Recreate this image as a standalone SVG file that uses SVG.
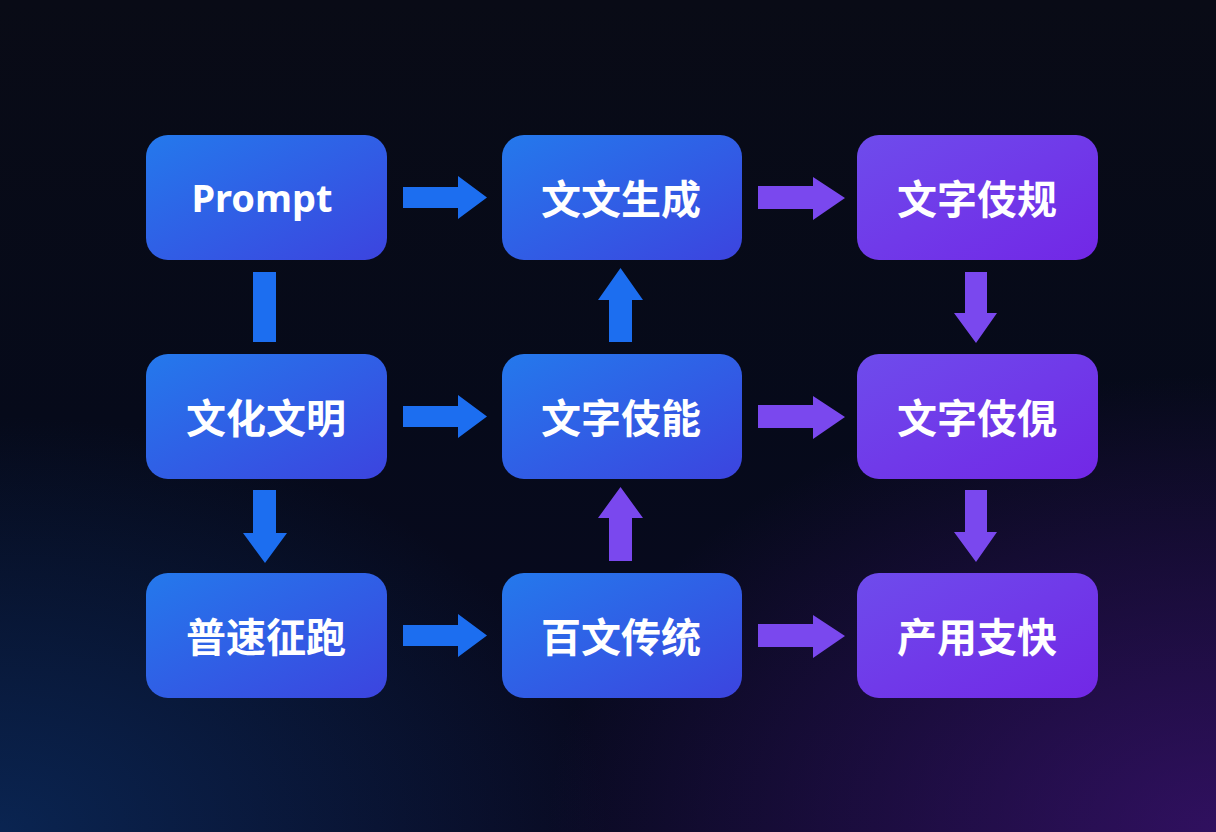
<svg xmlns="http://www.w3.org/2000/svg" width="1216" height="832" viewBox="0 0 1216 832">
<defs>
<linearGradient id="bg" x1="0" y1="0" x2="0" y2="1">
<stop offset="0" stop-color="#090b16"/>
<stop offset="0.5" stop-color="#060a1a"/>
<stop offset="1" stop-color="#090a22"/>
</linearGradient>
<radialGradient id="glowL" cx="0" cy="1" r="0.5">
<stop offset="0" stop-color="#0b3a78" stop-opacity="0.55"/>
<stop offset="1" stop-color="#0b3a78" stop-opacity="0"/>
</radialGradient>
<radialGradient id="glowR" cx="1" cy="1" r="0.55">
<stop offset="0" stop-color="#4a1488" stop-opacity="0.6"/>
<stop offset="1" stop-color="#4a1488" stop-opacity="0"/>
</radialGradient>
<linearGradient id="gBlue" x1="0" y1="0" x2="1" y2="1">
<stop offset="0" stop-color="#2479ec"/>
<stop offset="1" stop-color="#3c44df"/>
</linearGradient>
<linearGradient id="gPurple" x1="0" y1="0" x2="1" y2="1">
<stop offset="0" stop-color="#6e4cec"/>
<stop offset="1" stop-color="#7227e6"/>
</linearGradient>
<style>
.node-b{fill:url(#gBlue)}
.node-p{fill:url(#gPurple)}
.lbl{fill:#ffffff;font-family:"Noto Sans CJK SC","Noto Sans",sans-serif;font-weight:700;font-size:40px;text-anchor:middle;dominant-baseline:central}
.ab{fill:#1c6ef0}
.ap{fill:#7a48ee}
</style>
</defs>
<rect width="1216" height="832" fill="url(#bg)"/>
<rect width="1216" height="832" fill="url(#glowL)"/>
<rect width="1216" height="832" fill="url(#glowR)"/>

<g id="connectors">
<path class="ab" d="M403,187 H458 V176 L487,197.5 L458,219 V208 H403 Z"/>
<path class="ap" d="M758,186 H813 V177 L845,198 L813,220 V209 H758 Z"/>
<path class="ab" d="M403,406 H458 V395 L487,416.5 L458,438 V427 H403 Z"/>
<path class="ap" d="M758,405 H813 V396 L845,417 L813,439 V428 H758 Z"/>
<path class="ab" d="M403,625 H458 V614 L487,635.5 L458,657 V646 H403 Z"/>
<path class="ap" d="M758,624 H813 V615 L845,636 L813,658 V647 H758 Z"/>
<rect class="ab" x="253" y="272" width="23" height="70"/>
<path class="ab" d="M253,490 H276 V533 H287 L265,563 L243,533 H253 Z"/>
<path class="ab" d="M609,342 V300 H598 L620.5,268 L643,300 H632 V342 Z"/>
<path class="ap" d="M609,561 V518 H598 L620.5,487 L643,518 H632 V561 Z"/>
<path class="ap" d="M965,272 H987 V313 H997 L976,343 L954,313 H965 Z"/>
<path class="ap" d="M965,490 H987 V532 H997 L976,562 L954,532 H965 Z"/>
</g>

<g id="n-prompt"><rect class="node-b" x="146" y="135" width="241" height="125" rx="22"/><text class="lbl" x="262" y="197" style="font-family:'Noto Sans','Noto Sans CJK SC',sans-serif;font-size:38px">Prompt</text></g>
<g id="n-wwsc"><rect class="node-b" x="502" y="135" width="240" height="125" rx="22"/><text class="lbl" x="621" y="197">文文生成</text></g>
<g id="n-wzsg"><rect class="node-p" x="857" y="135" width="241" height="125" rx="22"/><text class="lbl" x="977" y="197">文字伎规</text></g>

<g id="n-whwm"><rect class="node-b" x="146" y="354" width="241" height="125" rx="22"/><text class="lbl" x="266" y="416">文化文明</text></g>
<g id="n-wzjn"><rect class="node-b" x="502" y="354" width="240" height="125" rx="22"/><text class="lbl" x="621" y="416">文字伎能</text></g>
<g id="n-wzjl"><rect class="node-p" x="857" y="354" width="241" height="125" rx="22"/><text class="lbl" x="977" y="416">文字伎俔</text></g>

<g id="n-pszp"><rect class="node-b" x="146" y="573" width="241" height="125" rx="22"/><text class="lbl" x="266" y="635">普速征跑</text></g>
<g id="n-bwct"><rect class="node-b" x="502" y="573" width="240" height="125" rx="22"/><text class="lbl" x="621" y="635">百文传统</text></g>
<g id="n-cyzk"><rect class="node-p" x="857" y="573" width="241" height="125" rx="22"/><text class="lbl" x="977" y="635">产用支快</text></g>
</svg>
